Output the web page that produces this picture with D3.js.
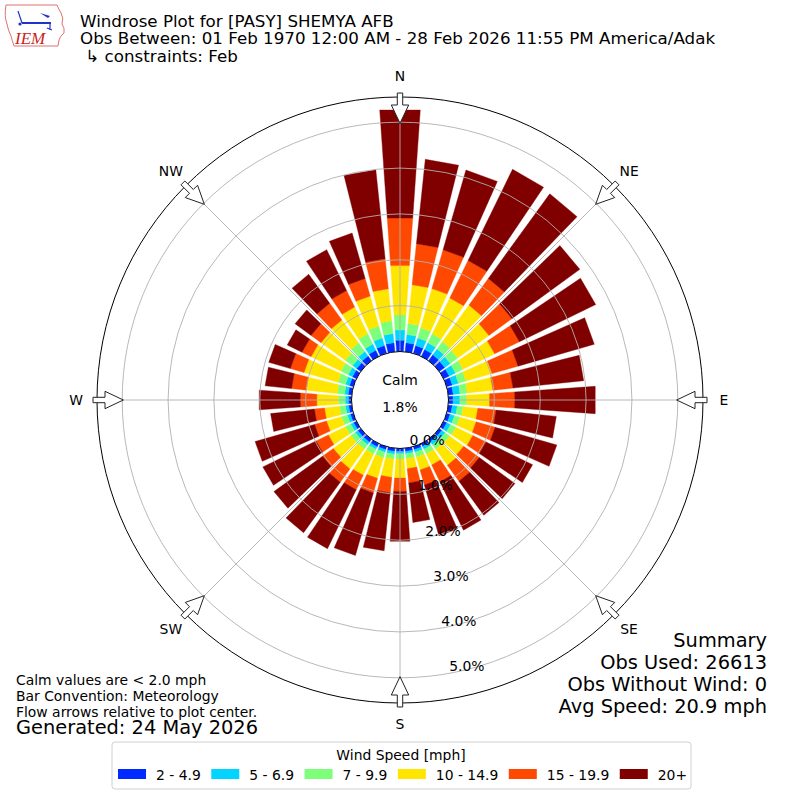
<!DOCTYPE html>
<html>
<head>
<meta charset="utf-8">
<script src="https://cdn.jsdelivr.net/npm/d3@7"></script>
<style>
  body { margin: 0; background: #fff; }
  text { font-family: "DejaVu Sans", sans-serif; fill: #000; }
</style>
</head>
<body>
<svg id="rose" width="800" height="800"></svg>
<script>
// wind direction bins, degrees from north (meteorological convention)
const directions = [0,10,20,30,40,50,60,70,80,90,100,110,120,130,140,150,160,170,
                    180,190,200,210,220,230,240,250,260,270,280,290,300,310,320,330,340,350];
const speedBins = ["2 - 4.9", "5 - 6.9", "7 - 9.9", "10 - 14.9", "15 - 19.9", "20+"];
const binColors = ["#002aff", "#00d4ff", "#7dff7a", "#ffe600", "#ff4800", "#800000"];

// percent of observations per direction, one array per speed bin
const pct2to5   = [0.25,0.20,0.18,0.17,0.16,0.15,0.14,0.13,0.11,0.10,0.09,0.08,0.08,0.07,0.07,0.07,0.07,0.07,
                   0.07,0.07,0.07,0.08,0.08,0.08,0.07,0.07,0.07,0.07,0.08,0.09,0.10,0.11,0.13,0.15,0.18,0.20];
const pct5to7   = [0.22,0.18,0.17,0.16,0.16,0.15,0.15,0.14,0.15,0.15,0.11,0.10,0.09,0.09,0.08,0.07,0.06,0.05,
                   0.05,0.06,0.06,0.06,0.07,0.07,0.07,0.07,0.07,0.07,0.08,0.09,0.10,0.11,0.12,0.15,0.17,0.20];
const pct7to10  = [0.33,0.24,0.23,0.22,0.20,0.20,0.18,0.17,0.16,0.15,0.13,0.12,0.13,0.12,0.12,0.11,0.11,0.11,
                   0.11,0.11,0.12,0.12,0.12,0.12,0.13,0.13,0.13,0.15,0.16,0.17,0.18,0.20,0.23,0.25,0.27,0.28];
const pct10to15 = [1.08,0.85,0.89,0.87,0.98,0.84,0.77,0.59,0.56,0.50,0.32,0.37,0.41,0.38,0.43,0.27,0.29,0.22,
                   0.42,0.40,0.47,0.51,0.53,0.47,0.41,0.34,0.33,0.47,0.68,0.77,0.72,0.65,0.62,0.65,0.68,0.70];
const pct15to20 = [1.04,0.90,0.88,0.91,0.72,0.62,0.60,0.59,0.44,0.55,0.40,0.43,0.32,0.42,0.43,0.41,0.34,0.31,
                   0.29,0.34,0.33,0.35,0.36,0.29,0.30,0.27,0.22,0.36,0.32,0.31,0.22,0.27,0.45,0.40,0.40,0.66];
const pct20up   = [2.36,1.85,1.81,2.21,2.28,1.83,1.85,1.73,1.55,1.76,1.32,1.40,1.13,0.96,0.92,1.17,1.15,0.87,
                   1.09,1.27,1.42,1.43,1.36,1.31,1.29,1.35,0.96,0.90,0.58,0.49,0.36,0.43,0.78,0.99,1.03,1.95];

const radialTicks = [0, 1, 2, 3, 4, 5];
const compassAngles = [0, 45, 90, 135, 180, 225, 270, 315];
const compassLabels = ["N", "NE", "E", "SE", "S", "SW", "W", "NW"];
const calmPct = 1.8;

const titleLines = ["Windrose Plot for [PASY] SHEMYA AFB",
                    "Obs Between: 01 Feb 1970 12:00 AM - 28 Feb 2026 11:55 PM America/Adak",
                    " \u21b3 constraints: Feb"];
const noteLines = ["Calm values are < 2.0 mph", "Bar Convention: Meteorology",
                   "Flow arrows relative to plot center."];
const summaryLines = ["Summary", "Obs Used: 26613", "Obs Without Wind: 0", "Avg Speed: 20.9 mph"];

const svg = d3.select("svg#rose");
const cx = 400, cy = 400, outerR = 303;
const small = "13.9px", big = "19.4px";

const rScale = d3.scaleLinear().domain([0, 5.55]).range([48.5, outerR]);
const aScale = d3.scaleLinear().domain([0, 360]).range([0, 2 * Math.PI]);
const halfOpen = aScale(4);

function pt(a, r) { return [cx + r * Math.sin(a), cy - r * Math.cos(a)]; }

//stack the speed bins per direction
const series = [pct2to5, pct5to7, pct7to10, pct10to15, pct15to20, pct20up];
const rows = directions.map(function(d, i) {
  let o = {dir: d};
  speedBins.forEach(function(b, j) { o[b] = series[j][i]; });
  return o;
});
const stacked = d3.stack().keys(speedBins)(rows);

const bars = svg.append("g").attr("id", "bars");
stacked.forEach(function(layer, j) {
  bars.selectAll(null).data(layer).enter().append("path")
    .attr("d", function(d) {
      let a = aScale(d.data.dir);
      let r0 = rScale(d[0]), r1 = rScale(d[1]);
      return d3.line()([pt(a - halfOpen, r0), pt(a + halfOpen, r0), pt(a + halfOpen, r1), pt(a - halfOpen, r1)]) + "Z";
    })
    .attr("fill", binColors[j])
    .attr("stroke", binColors[j])
    .attr("stroke-width", 0.4);
});

//grid circles and spokes
const grid = svg.append("g").attr("id", "grid");
grid.selectAll("circle").data(radialTicks.filter(t => t > 0)).enter().append("circle")
  .attr("cx", cx).attr("cy", cy).attr("r", d => rScale(d))
  .attr("fill", "none").attr("stroke", "#b0b0b0").attr("stroke-width", 0.9);
grid.selectAll("line").data(compassAngles).enter().append("line")
  .attr("x1", d => pt(aScale(d), rScale(0))[0]).attr("y1", d => pt(aScale(d), rScale(0))[1])
  .attr("x2", d => pt(aScale(d), outerR)[0]).attr("y2", d => pt(aScale(d), outerR)[1])
  .attr("stroke", "#b0b0b0").attr("stroke-width", 0.9);

svg.append("circle").attr("cx", cx).attr("cy", cy).attr("r", outerR)
  .attr("fill", "none").attr("stroke", "black").attr("stroke-width", 1);

//calm circle
svg.append("circle").attr("cx", cx).attr("cy", cy).attr("r", rScale(0))
  .attr("fill", "white").attr("stroke", "black").attr("stroke-width", 1);
svg.append("text").attr("x", cx).attr("y", 385).attr("text-anchor", "middle")
  .style("font-size", small).text("Calm");
svg.append("text").attr("x", cx).attr("y", 412).attr("text-anchor", "middle")
  .style("font-size", small).text(calmPct.toFixed(1) + "%");

//radial tick labels along bearing 170
const tickAngle = aScale(170);
svg.append("g").selectAll("text").data(radialTicks).enter().append("text")
  .attr("x", d => pt(tickAngle, rScale(d))[0] + 1)
  .attr("y", d => pt(tickAngle, rScale(d))[1] - 2.5)
  .style("font-size", small)
  .text(d => d.toFixed(1) + "%");

//compass labels
svg.append("g").selectAll("text").data(compassAngles).enter().append("text")
  .attr("x", d => pt(aScale(d), 324)[0])
  .attr("y", d => pt(aScale(d), 324)[1])
  .attr("text-anchor", "middle").attr("dominant-baseline", "central")
  .style("font-size", small)
  .text((d, i) => compassLabels[i]);

//flow arrows pointing to the center
const arrowShape = [[307, -2.7], [295, -2.7], [295, -8.7], [276.7, 0], [295, 8.7], [295, 2.7], [307, 2.7]];
svg.append("g").selectAll("path").data(compassAngles).enter().append("path")
  .attr("d", function(d) {
    let a = aScale(d);
    let pts = arrowShape.map(function(p) {
      let c = pt(a, p[0]);
      return [c[0] + p[1] * Math.cos(a), c[1] + p[1] * Math.sin(a)];
    });
    return d3.line()(pts) + "Z";
  })
  .attr("fill", "white").attr("stroke", "#222").attr("stroke-width", 1);

//title
svg.append("g").selectAll("text").data(titleLines).enter().append("text")
  .attr("x", 80).attr("y", (d, i) => 26.5 + i * 17.5)
  .attr("xml:space", "preserve")
  .style("font-size", "16.7px").style("white-space", "pre")
  .text(d => d);

//IEM logo
const logo = svg.append("g").attr("id", "logo");
logo.append("path")
  .attr("d", "M6,5 L57,5 Q59,10 61,13 Q64,18 62,24 Q65,28 64,33 Q60,36 59,40 L58,46 L14,46 Q12,40 11,36 Q8,30 7,24 Q4,16 6,5 Z")
  .attr("fill", "white").attr("stroke", "#e07070").attr("stroke-width", 1);
logo.append("line").attr("x1", 22).attr("y1", 23).attr("x2", 51).attr("y2", 23)
  .attr("stroke", "#2233cc").attr("stroke-width", 2);
logo.append("path").attr("d", "M22,23 L18,11").attr("stroke", "#2233cc").attr("stroke-width", 1.2).attr("fill", "none");
logo.append("path").attr("d", "M40,13 L48,18 L50,16 Z").attr("fill", "#2233cc");
logo.append("path").attr("d", "M50,23 L50,30 M47,28 L52,30").attr("stroke", "#2233cc").attr("stroke-width", 1.2).attr("fill", "none");
logo.append("circle").attr("cx", 20).attr("cy", 24).attr("r", 1.6).attr("fill", "#2233cc");
logo.append("text").attr("x", 15).attr("y", 44)
  .style("font-family", "'Liberation Serif', serif").style("font-style", "italic")
  .style("font-size", "17px").style("fill", "#cc2222").text("IEM");

//notes bottom left
svg.append("g").selectAll("text").data(noteLines).enter().append("text")
  .attr("x", 16).attr("y", (d, i) => 685 + i * 16)
  .style("font-size", small).text(d => d);
svg.append("text").attr("x", 16).attr("y", 733.5).style("font-size", big).text("Generated: 24 May 2026");

//summary bottom right
svg.append("g").selectAll("text").data(summaryLines).enter().append("text")
  .attr("x", 767).attr("y", (d, i) => 647 + i * 22).attr("text-anchor", "end")
  .style("font-size", big).text(d => d);

//legend
const legend = svg.append("g").attr("id", "legend");
legend.append("rect").attr("x", 112).attr("y", 742).attr("width", 579).attr("height", 47)
  .attr("rx", 3).attr("fill", "white").attr("stroke", "#d0d0d0").attr("stroke-width", 1);
legend.append("text").attr("x", 401).attr("y", 760).attr("text-anchor", "middle")
  .style("font-size", small).text("Wind Speed [mph]");
let lx = 118;
speedBins.forEach(function(b, j) {
  legend.append("rect").attr("x", lx).attr("y", 769).attr("width", 28).attr("height", 10).attr("fill", binColors[j]);
  let t = legend.append("text").attr("x", lx + 38).attr("y", 779.5).style("font-size", small).text(b);
  lx = lx + 38 + t.node().getComputedTextLength() + 10.5;
});
</script>
</body>
</html>
